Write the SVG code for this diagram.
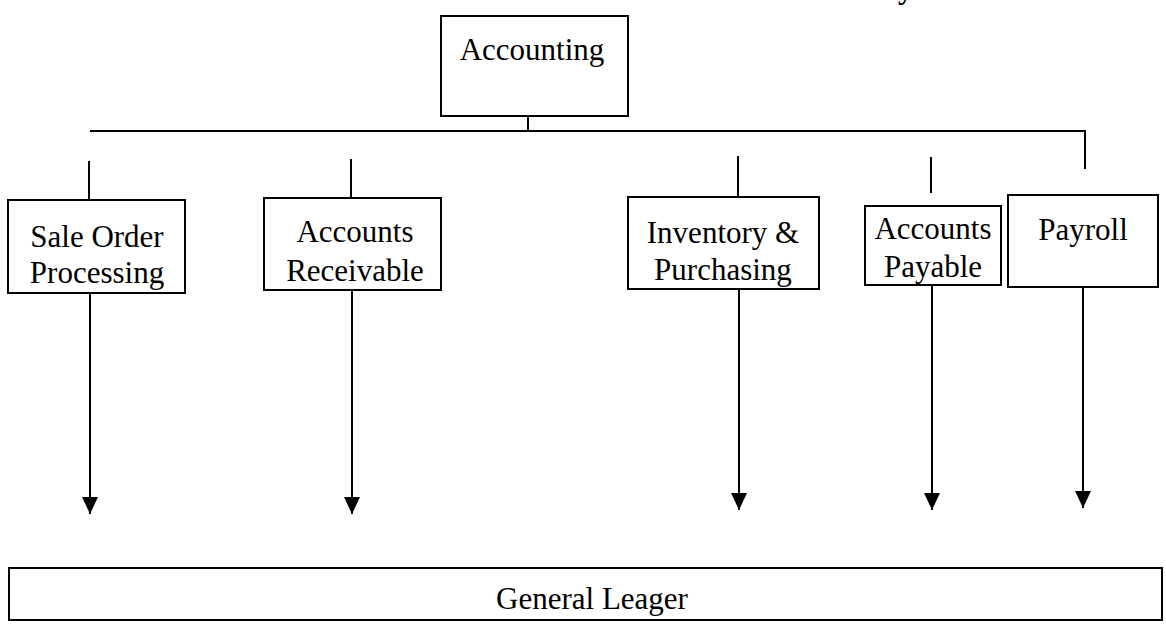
<svg xmlns="http://www.w3.org/2000/svg" width="1166" height="625" viewBox="0 0 1166 625">
<defs>
<style>
.box{fill:#fff;stroke:#000;stroke-width:2}
.ln{fill:none;stroke:#000;stroke-width:2}
.t{font-family:"Liberation Serif","Times New Roman",serif;font-size:31px;fill:#000;text-anchor:middle}
</style>
<marker id="arr" markerWidth="18" markerHeight="18" refX="17" refY="9" orient="auto" markerUnits="userSpaceOnUse" viewBox="0 0 18 18">
<path d="M0,1 L17,9 L0,17 Z" fill="#000"/>
</marker>
</defs>
<rect width="1166" height="625" fill="#fff"/>
<text x="898" y="-1" style="font-family:'Liberation Serif',serif;font-size:30px;font-weight:bold">y</text>
<g id="connectors">
<line class="ln" x1="528" y1="116" x2="528" y2="131"/>
<polyline class="ln" points="90,131 1085,131 1085,169"/>
<line class="ln" x1="89" y1="161" x2="89" y2="200"/>
<line class="ln" x1="351" y1="159" x2="351" y2="198"/>
<line class="ln" x1="738" y1="156" x2="738" y2="196"/>
<line class="ln" x1="931" y1="157" x2="931" y2="193"/>
<line class="ln" x1="90" y1="293" x2="90" y2="514" marker-end="url(#arr)"/>
<line class="ln" x1="352" y1="290" x2="352" y2="514" marker-end="url(#arr)"/>
<line class="ln" x1="739" y1="289" x2="739" y2="510" marker-end="url(#arr)"/>
<line class="ln" x1="932" y1="285" x2="932" y2="510" marker-end="url(#arr)"/>
<line class="ln" x1="1083" y1="287" x2="1083" y2="508" marker-end="url(#arr)"/>
</g>
<g id="accounting">
<rect class="box" x="441" y="16" width="187" height="100"/>
<text class="t" x="532" y="60">Accounting</text>
</g>
<g id="sale-order">
<rect class="box" x="8" y="200" width="177" height="93"/>
<text class="t" x="97" y="247">Sale Order</text>
<text class="t" x="97" y="283">Processing</text>
</g>
<g id="accounts-receivable">
<rect class="box" x="264" y="198" width="177" height="92"/>
<text class="t" x="355" y="242">Accounts</text>
<text class="t" x="355" y="281">Receivable</text>
</g>
<g id="inventory">
<rect class="box" x="628" y="197" width="191" height="92"/>
<text class="t" x="723" y="243">Inventory &amp;</text>
<text class="t" x="723" y="280">Purchasing</text>
</g>
<g id="accounts-payable">
<rect class="box" x="865" y="206" width="136" height="79"/>
<text class="t" x="933" y="239">Accounts</text>
<text class="t" x="933" y="277">Payable</text>
</g>
<g id="payroll">
<rect class="box" x="1008" y="195" width="150" height="92"/>
<text class="t" x="1083" y="240">Payroll</text>
</g>
<g id="general-ledger">
<rect class="box" x="9" y="568" width="1153" height="52"/>
<text class="t" x="592" y="609">General Leager</text>
</g>
</svg>
